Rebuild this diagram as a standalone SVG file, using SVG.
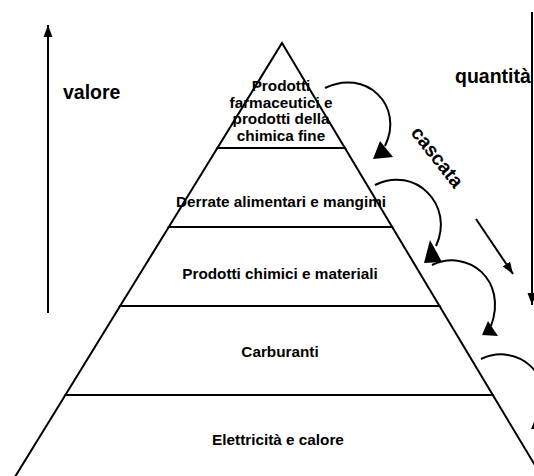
<svg xmlns="http://www.w3.org/2000/svg" width="534" height="476" viewBox="0 0 534 476">
<style>
.layer{fill:#fff;stroke:#000;stroke-width:2;stroke-linejoin:miter}
.lbl{font-family:"Liberation Sans",Arial,sans-serif;font-weight:bold;font-size:15.3px;text-anchor:middle;fill:#000}
.big{font-family:"Liberation Sans",Arial,sans-serif;font-weight:bold;font-size:19.5px;fill:#000}
.conn{fill:none;stroke:#000;stroke-width:2}
.head{fill:#000;stroke:none}
</style>
<defs>
<marker id="arr" markerUnits="userSpaceOnUse" markerWidth="13" markerHeight="10" refX="12" refY="5" orient="auto">
<path d="M0,0.5 L12,5 L0,9.5 z" fill="#000"/>
</marker>
</defs>
<rect width="534" height="476" fill="#fff"/>
<g id="layer-bottom">
<polygon class="layer" points="65.4,395 492.8,395 549.8,490 6.9,490"/>
<text class="lbl" x="278" y="445">Elettricità e calore</text>
</g>
<g id="layer-carburanti">
<polygon class="layer" points="120.1,306 439.5,306 492.8,395 65.4,395"/>
<text class="lbl" x="280" y="357">Carburanti</text>
</g>
<g id="layer-chimici">
<polygon class="layer" points="168.8,227 392.2,227 439.5,306 120.1,306"/>
<text class="lbl" x="280" y="278.5">Prodotti chimici e materiali</text>
</g>
<g id="layer-derrate">
<polygon class="layer" points="217.4,148 344.9,148 392.2,227 168.8,227"/>
<text class="lbl" x="281" y="207">Derrate alimentari e mangimi</text>
</g>
<g id="layer-top">
<polygon class="layer" points="282,43 344.9,148 217.4,148"/>
<text class="lbl" x="281" y="91">Prodotti</text>
<text class="lbl" x="281" y="107.7">farmaceutici e</text>
<text class="lbl" x="281" y="124.4">prodotti della</text>
<text class="lbl" x="281" y="141">chimica fine</text>
</g>
<g id="valore">
<text class="big" x="63" y="99">valore</text>
</g>
<g id="quantita">
<text class="big" x="455" y="83">quantità</text>
</g>
<g id="cascata">
<text class="big" transform="translate(436,158) rotate(52)" x="0" y="5" text-anchor="middle">cascata</text>
</g>
<g id="connectors">
<line class="conn" x1="48" y1="313" x2="48" y2="25" marker-end="url(#arr)"/>
<line class="conn" x1="532" y1="12" x2="532" y2="305" marker-end="url(#arr)"/>
<line class="conn" x1="476" y1="219" x2="513" y2="274" marker-end="url(#arr)"/>
<path class="conn" d="M325,88 C365,68 405,105 385,146"/>
<polygon class="head" points="380,141 393,157 373,159"/>
<path class="conn" d="M375,185 C415,165 455,205 436,246"/>
<polygon class="head" points="430,240 442,262 424,263"/>
<path class="conn" d="M432,265 C468,248 508,280 491,326"/>
<polygon class="head" points="488,321 498,336 482,335"/>
<path class="conn" d="M481,359 C517,342 557,374 540,420"/>
<polygon class="head" points="537,415 547,430 531,429"/>
</g>
</svg>
